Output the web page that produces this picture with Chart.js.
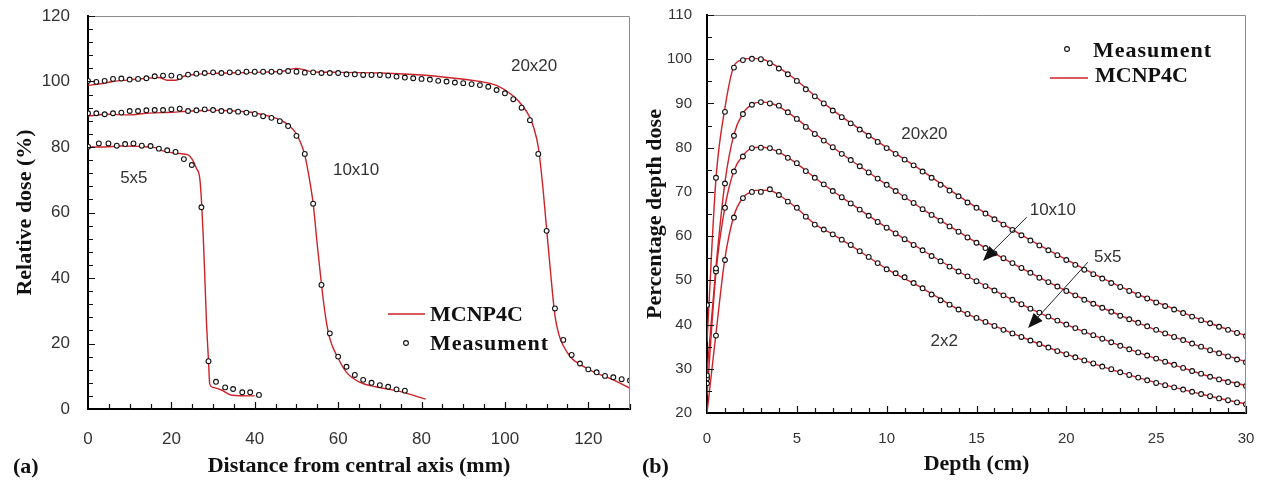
<!DOCTYPE html>
<html>
<head>
<meta charset="utf-8">
<title>Perfiles y PDD</title>
<script src="https://cdn.jsdelivr.net/npm/chart.js@4.4.1/dist/chart.umd.min.js"></script>
<style>
  html, body { margin: 0; padding: 0; background: #fff; }
  body { width: 1266px; height: 481px; position: relative; overflow: hidden; }
  .panel { position: absolute; top: 0; height: 481px; }
  #panelA { left: 0; width: 640px; }
  #panelB { left: 636px; width: 630px; }
</style>
</head>
<body>
<div class="panel" id="panelA"><canvas id="graficaA"></canvas></div>
<div class="panel" id="panelB"><canvas id="graficaB"></canvas></div>
<script>
// (a) Perfiles de dosis relativa - distancia al eje central (mm)
const distancia5 = [0, 2.6, 4.9, 6.9, 8.9, 10.9, 12.9, 15, 17, 19, 21, 23, 24.9, 27.2, 28.9, 30.7, 32.9, 34.8, 37, 38.9, 41];
const medida5 = [80.1, 81.1, 81.1, 80.4, 80.9, 81.1, 80.4, 80.3, 79.5, 79.0, 78.5, 76.3, 74.5, 61.6, 14.6, 8.3, 6.6, 6.1, 5.1, 5.1, 4.3];

const distancia10 = [0, 2, 4, 6, 8, 10, 12, 14, 16, 18, 20, 22, 24, 26, 28, 30, 32, 34, 36, 38,
  40, 42, 44, 46, 48, 50, 52, 54, 56, 58, 60, 62, 64, 66, 68, 70, 72, 74, 76];
const medida10 = [90.3, 90.3, 90.0, 90.3, 90.5, 91.0, 91.0, 91.2, 91.3, 91.3, 91.5, 91.7, 91.0, 91.2, 91.5, 91.3, 91.0, 91.0, 90.8, 90.5,
  90.1, 89.4, 88.9, 87.9, 86.4, 83.4, 77.9, 62.7, 37.9, 23.1, 16.0, 12.9, 10.4, 8.9, 8.0, 7.3, 6.8, 6.0, 5.6];

const distancia20 = [0, 2, 4, 6, 8, 10, 12, 14, 16, 18, 20, 22, 24, 26, 28, 30, 32, 34, 36, 38,
  40, 42, 44, 46, 48, 50, 52, 54, 56, 58, 60, 62, 64, 66, 68, 70, 72, 74, 76, 78,
  80, 82, 84, 86, 88, 90, 92, 94, 96, 98, 100, 102, 104, 106, 108, 110, 112, 114, 116, 118,
  120, 122, 124, 126, 128, 130];
const medida20 = [100.2, 99.9, 100.2, 100.8, 100.9, 100.6, 100.8, 101.0, 101.6, 101.8, 101.8, 101.4, 102.1, 102.4, 102.6, 102.8, 102.6, 102.8, 102.8, 103.0,
  103.0, 103.0, 103.0, 103.0, 103.2, 103.0, 102.7, 102.8, 102.6, 102.6, 102.6, 102.2, 102.2, 102.0, 102.0, 102.0, 101.8, 101.5, 101.2, 101.0,
  100.8, 100.6, 100.2, 100.0, 99.7, 99.5, 99.2, 98.9, 98.4, 97.4, 96.4, 94.6, 92.0, 88.2, 77.9, 54.4, 30.7, 21.1, 16.5, 13.9,
  12.1, 11.2, 10.1, 9.7, 9.1, 8.7];

const mcDist5 = [0, 4, 8, 12, 16, 18, 20, 22, 24, 25, 26, 26.8, 27.2, 27.6, 28.0, 28.4, 28.9, 29.2, 30, 32, 34.5, 40];
const mcDosis5 = [80, 80, 80.3, 80.2, 79.8, 78.8, 78.3, 78, 77.6, 76.2, 73.5, 70.5, 64, 54, 41, 27, 14.8, 7.6, 6.6, 5.8, 4.2, 4.0];

const mcDist10 = [0, 5, 10, 14, 20, 25, 30, 35, 40, 44, 46, 48, 50, 51, 52, 53, 54, 55, 56, 57, 58, 60, 62, 65, 69, 75, 81];
const mcDosis10 = [89.5, 90, 89.8, 90.3, 90.6, 91, 91.2, 91, 90.4, 89.2, 88.3, 86.8, 84, 81.3, 77.5, 71, 62.8, 50, 38, 28, 21.5, 15.5, 11.2, 8.3, 6.8, 5.3, 3.0];

const mcDist20 = [0, 3, 6, 10, 14, 17, 19, 21, 23, 26, 30, 40, 47, 50, 52, 54, 60, 70, 80, 88,
  94, 98, 102, 104.4, 106, 107, 108, 109, 110, 111, 112, 113, 114, 116, 118, 121, 126, 130];
const mcDosis20 = [98.8, 99.3, 100, 100.5, 101, 101.2, 100.4, 100.4, 101.6, 102.2, 102.5, 102.8, 103.2, 104.0, 103.5, 102.9, 102.8, 102.6, 102.0, 101.0,
  100.0, 98.8, 95.6, 92.3, 89.0, 85.5, 80.0, 69, 55, 41, 28.5, 22.5, 19.3, 15.5, 13.6, 11.5, 8.9, 6.3];

// (b) Porcentaje de dosis en profundidad - profundidad (cm)
const profundidad = [0, 0.5, 1, 1.5, 2, 2.5, 3, 3.5, 4, 4.5, 5, 5.5, 6, 6.5, 7, 7.5, 8, 8.5, 9, 9.5,
  10, 10.5, 11, 11.5, 12, 12.5, 13, 13.5, 14, 14.5, 15, 15.5, 16, 16.5, 17, 17.5, 18, 18.5, 19, 19.5,
  20, 20.5, 21, 21.5, 22, 22.5, 23, 23.5, 24, 24.5, 25, 25.5, 26, 26.5, 27, 27.5, 28, 28.5, 29, 29.5, 30];
const pdd20 = [44.4, 73.2, 88.1, 98.1, 99.8, 100.1, 100.0, 99.1, 97.9, 96.6,
  95.1, 93.2, 91.6, 90.0, 88.4, 86.9, 85.5, 84.1, 82.7, 81.3,
  79.9, 78.6, 77.3, 76.0, 74.6, 73.2, 71.6, 70.3, 69.0, 67.6,
  66.4, 65.1, 63.8, 62.6, 61.4, 60.2, 59.0, 57.9, 56.8, 55.7,
  54.6, 53.5, 52.4, 51.4, 50.4, 49.4, 48.5, 47.6, 46.7, 45.9,
  45.0, 44.2, 43.4, 42.6, 41.8, 41.0, 40.3, 39.5, 38.8, 38.1, 37.4];
const pdd10 = [28.5, 52.7, 71.9, 82.7, 87.6, 89.7, 90.3, 90.0, 89.5, 88.0,
  86.5, 84.7, 83.1, 81.6, 80.1, 78.6, 77.2, 75.8, 74.4, 73.0,
  71.6, 70.2, 68.8, 67.5, 66.1, 64.8, 63.5, 62.2, 61.0, 59.7,
  58.5, 57.3, 56.1, 55.0, 53.9, 52.8, 51.7, 50.6, 49.6, 48.6,
  47.6, 46.6, 45.6, 44.7, 43.8, 42.9, 42.0, 41.2, 40.4, 39.6,
  38.8, 38.0, 37.2, 36.5, 35.7, 35.0, 34.2, 33.5, 32.8, 32.1, 31.5];
const pdd5 = [27.8, 52.0, 66.4, 74.6, 78.0, 79.9, 80.0, 79.9, 79.1, 77.7,
  76.5, 74.7, 73.2, 71.7, 70.2, 68.8, 67.4, 66.0, 64.6, 63.2,
  61.9, 60.6, 59.3, 58.0, 56.8, 55.5, 54.3, 53.1, 52.0, 50.9,
  49.8, 48.7, 47.7, 46.6, 45.6, 44.6, 43.6, 42.7, 41.8, 40.9,
  40.0, 39.2, 38.4, 37.6, 36.8, 36.0, 35.2, 34.4, 33.7, 33.0,
  32.3, 31.6, 30.9, 30.2, 29.5, 28.9, 28.2, 27.6, 27.0, 26.5, 26.1];
const pdd2 = [26.7, 37.5, 54.6, 64.2, 68.6, 70.0, 70.0, 70.6, 69.3, 67.8,
  66.4, 64.4, 62.6, 61.5, 60.4, 59.2, 58.0, 56.6, 55.3, 53.9,
  52.5, 51.6, 50.7, 49.4, 48.2, 46.8, 45.5, 44.5, 43.4, 42.4,
  41.5, 40.6, 39.7, 38.8, 38.0, 37.2, 36.4, 35.6, 34.8, 34.0,
  33.3, 32.6, 31.9, 31.2, 30.5, 29.9, 29.2, 28.6, 28.0, 27.4,
  26.8, 26.3, 25.8, 25.3, 24.8, 24.3, 23.8, 23.3, 22.9, 22.4, 22.0];

const mcProf = [0, 0.5, 1, 1.5, 2, 2.5, 3, 3.5, 4, 5, 6, 7, 8, 10, 12, 14, 16, 18, 20, 22, 24, 26, 28, 30];
const mcPdd20 = [36, 73, 89, 98.4, 99.9, 100.2, 100.1, 99.3, 98.1, 95.2, 91.7, 88.5, 85.6, 80.0, 74.7, 69.1, 63.9, 59.1, 54.7, 50.5, 46.8, 43.5, 40.3, 37.5];
const mcPdd10 = [29, 53, 72.2, 83, 87.8, 89.8, 90.3, 90.1, 89.3, 86.5, 83.2, 80.1, 77.2, 71.6, 66.1, 61.0, 56.1, 51.7, 47.6, 43.8, 40.4, 37.2, 34.2, 31.6];
const mcPdd5 = [24, 51.8, 66.6, 74.8, 78.2, 79.9, 80.1, 79.8, 79.0, 76.4, 73.2, 70.2, 67.4, 61.9, 56.8, 52.0, 47.7, 43.6, 40.0, 36.8, 33.7, 30.9, 28.2, 26.2];
const mcPdd2 = [20, 38, 55, 64.6, 68.7, 70.1, 70.4, 70.3, 69.3, 66.3, 62.7, 60.4, 57.9, 52.6, 48.2, 43.4, 39.7, 36.4, 33.3, 30.5, 28.0, 25.8, 23.8, 22.0];

const ROJO = '#cc2229';
const SERIF = "'Liberation Serif', 'Times New Roman', serif";
const SANS = "'Liberation Sans', Arial, sans-serif";

Chart.defaults.font.family = SANS;
Chart.defaults.color = '#333';

function puntos(xs, ys) {
    return xs.map((x, i) => ({ x: x, y: ys[i] }));
}

function medicion(xs, ys) {
    return {
        data: puntos(xs, ys),
        showLine: false,
        pointStyle: 'circle',
        pointRadius: 2.4,
        pointBorderWidth: 1.1,
        pointBorderColor: '#111',
        pointBackgroundColor: '#fff',
        order: 0
    };
}

function simulacion(xs, ys) {
    return {
        data: puntos(xs, ys),
        showLine: true,
        borderColor: ROJO,
        borderWidth: 1.4,
        pointRadius: 0,
        cubicInterpolationMode: 'monotone',
        order: 1
    };
}

// Marco gris arriba/derecha y marcas de escala hacia adentro
function marco(cfg) {
    return {
        id: 'marco',
        afterDraw(chart) {
            const { ctx, chartArea: a, scales: { x, y } } = chart;
            ctx.save();
            ctx.strokeStyle = '#8c8c8c';
            ctx.lineWidth = 1;
            ctx.beginPath();
            ctx.moveTo(a.left, a.top + 0.5);
            ctx.lineTo(a.right - 0.5, a.top + 0.5);
            ctx.lineTo(a.right - 0.5, a.bottom);
            ctx.stroke();

            ctx.strokeStyle = '#111';
            ctx.lineWidth = 1.2;
            ctx.beginPath();
            const nx = Math.round((x.max - x.min) / cfg.pasoX);
            for (let i = 1; i <= nx; i++) {
                const v = x.min + i * cfg.pasoX;
                const px = Math.round(x.getPixelForValue(v)) + 0.5;
                const largo = Math.abs(v % cfg.mayorX) < 1e-6 ? 7 : 5;
                ctx.moveTo(px, a.bottom);
                ctx.lineTo(px, a.bottom - largo);
            }
            const ny = Math.round((y.max - y.min) / cfg.pasoY);
            for (let i = 1; i <= ny; i++) {
                const v = y.min + i * cfg.pasoY;
                const py = Math.round(y.getPixelForValue(v)) + 0.5;
                const largo = Math.abs(v % cfg.mayorY) < 1e-6 ? 7 : 5;
                ctx.moveTo(a.left, py);
                ctx.lineTo(a.left + largo, py);
            }
            ctx.stroke();
            ctx.restore();
        }
    };
}

// Etiquetas de campo, flechas, leyenda y letra del panel
function notas(cfg) {
    return {
        id: 'notas',
        afterDatasetsDraw(chart) {
            const { ctx, scales: { x, y } } = chart;
            ctx.save();
            ctx.fillStyle = '#333';
            ctx.font = '17px ' + SANS;
            ctx.textAlign = 'center';
            ctx.textBaseline = 'middle';
            cfg.textos.forEach(n => {
                ctx.fillText(n.t, x.getPixelForValue(n.x), y.getPixelForValue(n.y));
            });

            ctx.strokeStyle = '#222';
            ctx.fillStyle = '#111';
            ctx.lineWidth = 1;
            (cfg.flechas || []).forEach(f => {
                const x1 = x.getPixelForValue(f.x1), y1 = y.getPixelForValue(f.y1);
                const x2 = x.getPixelForValue(f.x2), y2 = y.getPixelForValue(f.y2);
                const ang = Math.atan2(y2 - y1, x2 - x1);
                ctx.beginPath();
                ctx.moveTo(x1, y1);
                ctx.lineTo(x2 - 10 * Math.cos(ang), y2 - 10 * Math.sin(ang));
                ctx.stroke();
                ctx.beginPath();
                ctx.moveTo(x2, y2);
                ctx.lineTo(x2 - 15 * Math.cos(ang) + 6 * Math.sin(ang), y2 - 15 * Math.sin(ang) - 6 * Math.cos(ang));
                ctx.lineTo(x2 - 15 * Math.cos(ang) - 6 * Math.sin(ang), y2 - 15 * Math.sin(ang) + 6 * Math.cos(ang));
                ctx.closePath();
                ctx.fill();
            });

            ctx.textAlign = 'left';
            cfg.leyenda.forEach(l => {
                if (l.tipo === 'linea') {
                    ctx.strokeStyle = ROJO;
                    ctx.lineWidth = 1.4;
                    ctx.beginPath();
                    ctx.moveTo(l.x1, l.y);
                    ctx.lineTo(l.x2, l.y);
                    ctx.stroke();
                } else {
                    ctx.strokeStyle = '#111';
                    ctx.fillStyle = '#fff';
                    ctx.lineWidth = 1.1;
                    ctx.beginPath();
                    ctx.arc(l.x1, l.y, 2.4, 0, Math.PI * 2);
                    ctx.fill();
                    ctx.stroke();
                }
                ctx.fillStyle = '#111';
                ctx.font = 'bold 22px ' + SERIF;
                ctx.letterSpacing = l.espacio || '0px';
                ctx.fillText(l.texto, l.tx, l.ty);
                ctx.letterSpacing = '0px';
            });

            ctx.font = 'bold 22px ' + SERIF;
            ctx.fillText(cfg.panel.t, cfg.panel.x, cfg.panel.y);
            ctx.restore();
        }
    };
}

function escala(cfg) {
    return {
        type: 'linear',
        min: cfg.min,
        max: cfg.max,
        grid: { display: false },
        border: { display: true, color: '#000', width: 2 },
        ticks: {
            stepSize: cfg.paso,
            includeBounds: false,
            autoSkip: false,
            maxRotation: 0,
            padding: cfg.relleno,
            color: '#333',
            font: { size: cfg.fuente }
        },
        title: {
            display: true,
            text: cfg.titulo,
            color: '#111',
            font: { family: SERIF, size: 22, weight: 'bold' },
            padding: cfg.tituloRelleno
        },
        afterFit(s) {
            // tamaño fijo del eje para que el área del gráfico quede donde en la figura
            if (cfg.ancho) {
                s.width = cfg.ancho;
                s.paddingTop = 0;
                s.paddingBottom = 0;
            }
            if (cfg.alto) s.height = cfg.alto;
        }
    };
}

const comunes = {
    responsive: true,
    maintainAspectRatio: false,
    animation: false,
    events: []
};

new Chart(document.getElementById('graficaA'), {
    type: 'scatter',
    data: {
        datasets: [
            medicion(distancia5, medida5),
            medicion(distancia10, medida10),
            medicion(distancia20, medida20),
            simulacion(mcDist5, mcDosis5),
            simulacion(mcDist10, mcDosis10),
            simulacion(mcDist20, mcDosis20)
        ]
    },
    options: {
        ...comunes,
        layout: { padding: { top: 16, right: 10, bottom: 0, left: 0 } },
        plugins: { legend: { display: false }, tooltip: { enabled: false } },
        scales: {
            x: escala({ min: 0, max: 130, paso: 20, relleno: 12, fuente: 17, alto: 72,
                titulo: 'Distance from central axis (mm)', tituloRelleno: { top: 0, bottom: 1 } }),
            y: escala({ min: 0, max: 120, paso: 20, relleno: 10, fuente: 17, ancho: 88,
                titulo: 'Relative dose (%)', tituloRelleno: { top: 12, bottom: 0 } })
        }
    },
    plugins: [
        marco({ pasoX: 5, mayorX: 20, pasoY: 4, mayorY: 20 }),
        notas({
            textos: [
                { t: '5x5', x: 11, y: 70.5 },
                { t: '10x10', x: 64.3, y: 73 },
                { t: '20x20', x: 107, y: 104.7 }
            ],
            leyenda: [
                { tipo: 'linea', x1: 388, x2: 425, y: 314, texto: 'MCNP4C', tx: 430, ty: 315 },
                { tipo: 'punto', x1: 406, y: 343, texto: 'Measument', tx: 430, ty: 344, espacio: '1px' }
            ],
            panel: { t: '(a)', x: 13, y: 467 }
        })
    ]
});

new Chart(document.getElementById('graficaB'), {
    type: 'scatter',
    data: {
        datasets: [
            medicion(profundidad, pdd20),
            medicion(profundidad, pdd10),
            medicion(profundidad, pdd5),
            medicion(profundidad, pdd2),
            simulacion(mcProf, mcPdd20),
            simulacion(mcProf, mcPdd10),
            simulacion(mcProf, mcPdd5),
            simulacion(mcProf, mcPdd2)
        ]
    },
    options: {
        ...comunes,
        layout: { padding: { top: 15, right: 20, bottom: 0, left: 0 } },
        plugins: { legend: { display: false }, tooltip: { enabled: false } },
        scales: {
            x: escala({ min: 0, max: 30, paso: 5, relleno: 9, fuente: 15, alto: 68,
                titulo: 'Depth (cm)', tituloRelleno: { top: 0, bottom: 3 } }),
            y: escala({ min: 20, max: 110, paso: 10, relleno: 7, fuente: 15, ancho: 71,
                titulo: 'Percentage depth dose', tituloRelleno: { top: 6, bottom: 0 } })
        }
    },
    plugins: [
        marco({ pasoX: 1, mayorX: 5, pasoY: 5, mayorY: 10 }),
        notas({
            textos: [
                { t: '20x20', x: 12.1, y: 83.1 },
                { t: '10x10', x: 19.25, y: 65.9 },
                { t: '5x5', x: 22.3, y: 55.3 },
                { t: '2x2', x: 13.2, y: 36.3 }
            ],
            flechas: [
                { x1: 17.8, y1: 64.3, x2: 15.36, y2: 54.4 },
                { x1: 21.2, y1: 54.1, x2: 17.87, y2: 39.2 }
            ],
            leyenda: [
                { tipo: 'punto', x1: 431, y: 49, texto: 'Measument', tx: 457, ty: 51, espacio: '1px' },
                { tipo: 'linea', x1: 414, x2: 452, y: 78, texto: 'MCNP4C', tx: 459, ty: 76 }
            ],
            panel: { t: '(b)', x: 6, y: 467 }
        })
    ]
});
</script>
</body>
</html>
